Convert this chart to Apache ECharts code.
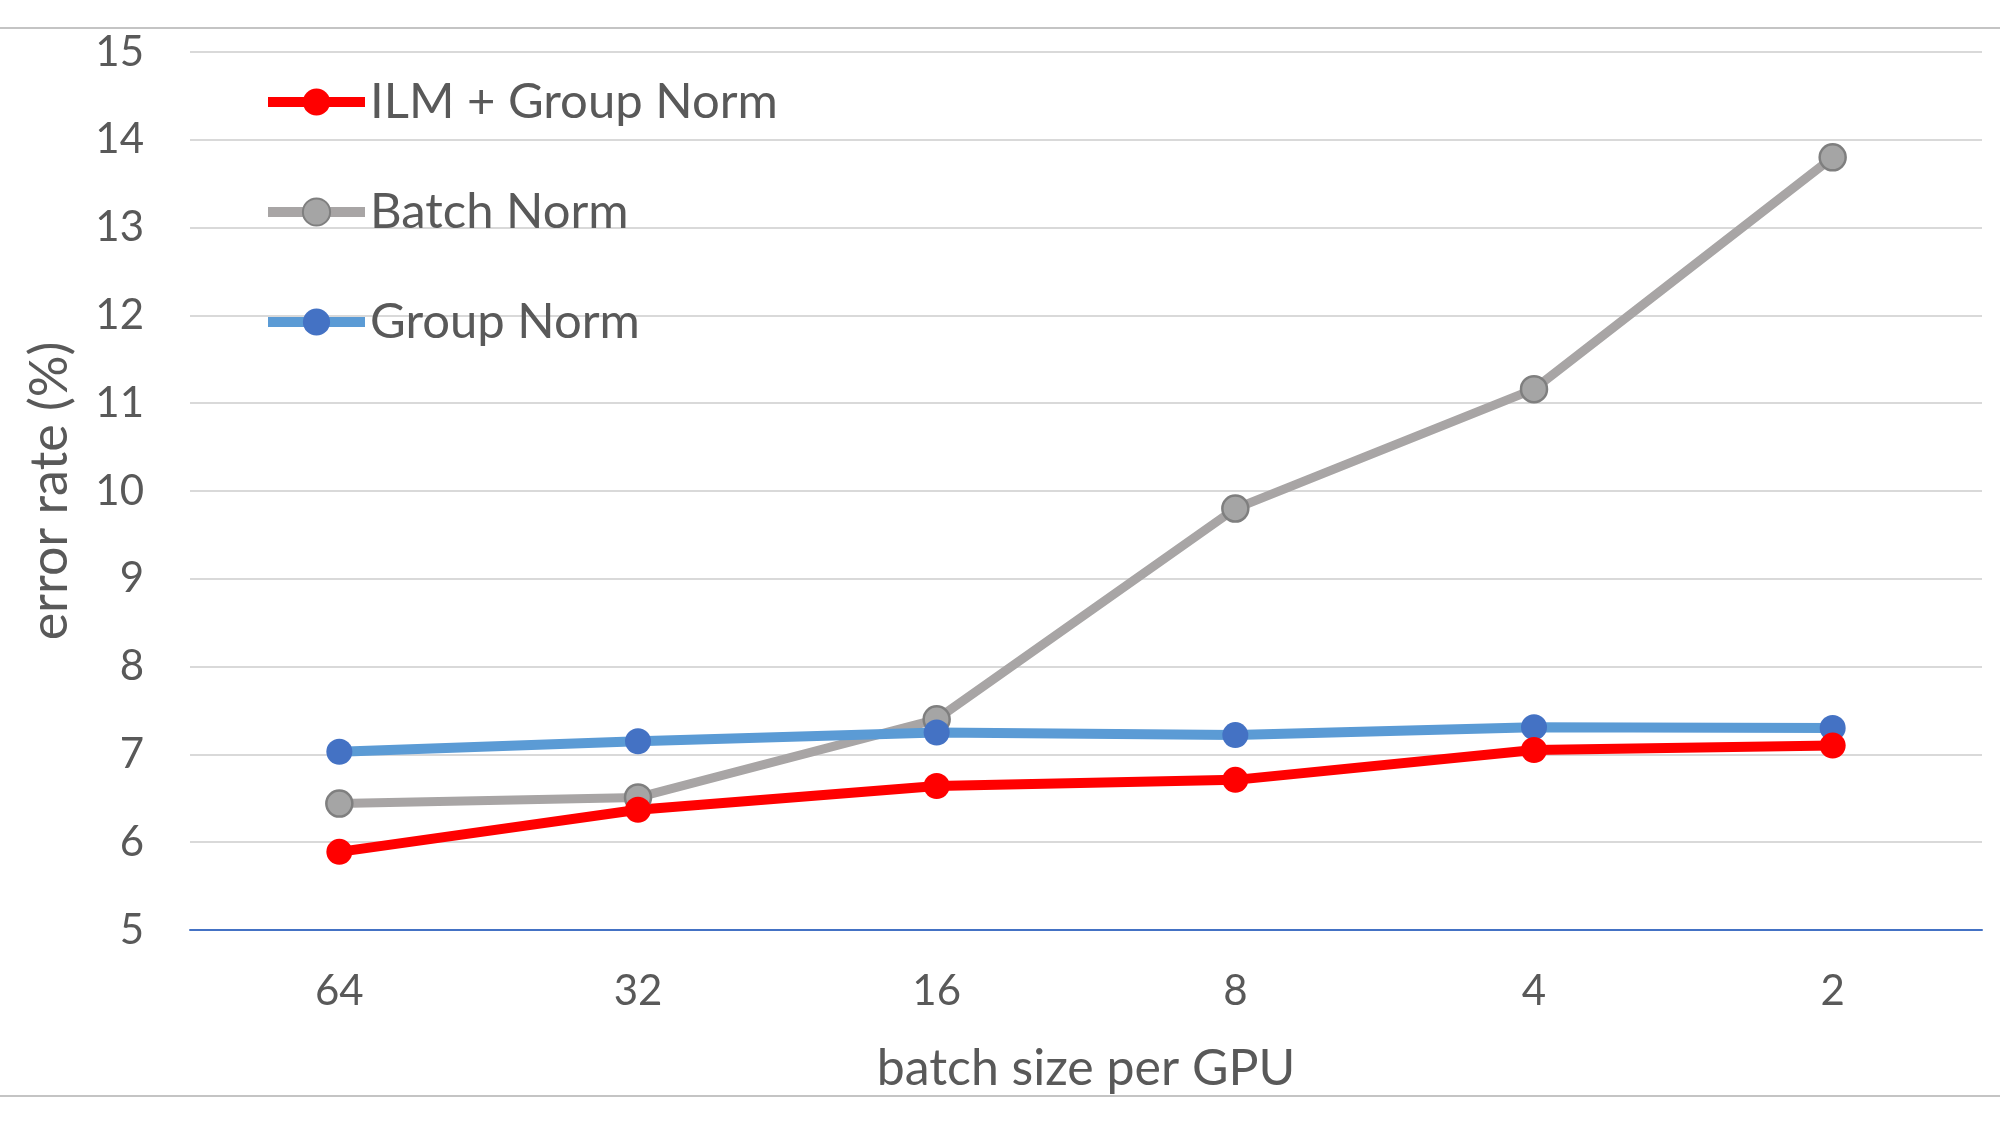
<!DOCTYPE html>
<html>
<head>
<meta charset="utf-8">
<title>error rate vs batch size</title>
<script src="https://cdn.jsdelivr.net/npm/echarts@6/dist/echarts.min.js"></script>
<style>
    html, body {margin:0; padding:0; background:#fff;}
    #chart {width:2000px; height:1125px;}
</style>
</head>
<body>
<div id="chart"></div>
<script>
// data
const batchSizes = ['64', '32', '16', '8', '4', '2'];
const ilmGroupNorm = [5.89, 6.37, 6.64, 6.71, 7.05, 7.10];
const batchNorm = [6.44, 6.51, 7.40, 9.80, 11.16, 13.80];
const groupNorm = [7.03, 7.15, 7.25, 7.22, 7.31, 7.30];
const yTicks = [5, 15, 1]; // min, max, step

const textColor = '#595959';
const font = 'Lato';

let chart = echarts.init(document.getElementById('chart'));

let option = {
    animation: false,
    backgroundColor: '#fff',
    textStyle: {fontFamily: font},
    grid: {left: 190, right: 18, top: 52, bottom: 195},
    legend: {
        orient: 'vertical',
        left: 258,
        top: 71,
        itemWidth: 97,
        itemHeight: 34,
        itemGap: 58,
        data: ['ILM + Group Norm', 'Batch Norm', 'Group Norm'],
        lineStyle: {width: 10},
        textStyle: {fontFamily: font, fontSize: 49, color: textColor, lineHeight: 52}
    },
    xAxis: {
        type: 'category',
        data: batchSizes,
        boundaryGap: true,
        name: 'batch size per GPU',
        nameLocation: 'middle',
        nameGap: 114,
        nameTextStyle: {fontFamily: font, fontSize: 50, color: textColor},
        axisLine: {lineStyle: {color: '#4472C4', width: 2}},
        axisTick: {show: false},
        axisLabel: {fontFamily: font, fontSize: 42, color: textColor, margin: 40}
    },
    yAxis: {
        type: 'value',
        min: yTicks[0],
        max: yTicks[1],
        interval: yTicks[2],
        name: 'error rate (%)',
        nameLocation: 'middle',
        nameGap: 114,
        nameTextStyle: {fontFamily: font, fontSize: 52, color: textColor},
        axisLine: {show: false},
        axisTick: {show: false},
        axisLabel: {fontFamily: font, fontSize: 42, color: textColor, margin: 46},
        splitLine: {lineStyle: {color: '#d9d9d9', width: 2}}
    },
    series: [
        {
            name: 'Batch Norm',
            type: 'line',
            data: batchNorm,
            symbol: 'circle',
            symbolSize: 26,
            lineStyle: {color: '#a8a5a5', width: 9},
            itemStyle: {color: '#a5a5a5', borderColor: '#7f7f7f', borderWidth: 2.5}
        },
        {
            name: 'Group Norm',
            type: 'line',
            data: groupNorm,
            symbol: 'circle',
            symbolSize: 26,
            lineStyle: {color: '#5B9BD5', width: 10},
            itemStyle: {color: '#4472C4'}
        },
        {
            name: 'ILM + Group Norm',
            type: 'line',
            data: ilmGroupNorm,
            symbol: 'circle',
            symbolSize: 26,
            lineStyle: {color: '#ff0000', width: 10},
            itemStyle: {color: '#ff0000'}
        }
    ],
    graphic: [
        // thin frame lines at top and bottom of the picture
        {type: 'line', shape: {x1: 0, y1: 28, x2: 2000, y2: 28}, style: {stroke: '#c4c4c4', lineWidth: 2}},
        {type: 'line', shape: {x1: 0, y1: 1096, x2: 2000, y2: 1096}, style: {stroke: '#c4c4c4', lineWidth: 2}}
    ]
};

chart.setOption(option);
</script>
</body>
</html>
